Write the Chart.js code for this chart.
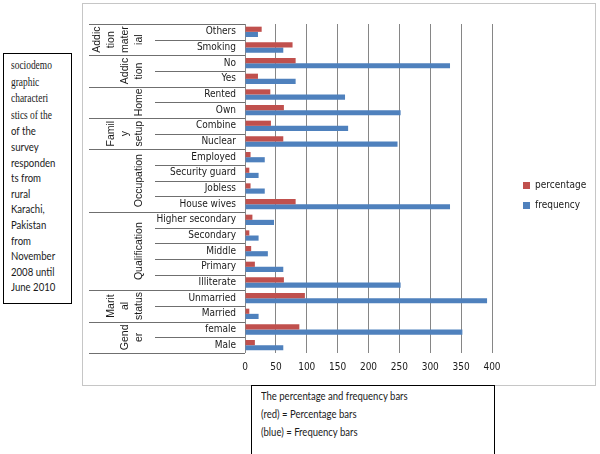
<!DOCTYPE html>
<html>
<head>
<meta charset="utf-8">
<title>sociodemographic characteristics</title>
<script src="https://cdn.jsdelivr.net/npm/chart.js@4.4.1/dist/chart.umd.min.js"></script>
<style>
  body { margin: 0; width: 600px; height: 454px; position: relative; overflow: hidden; background: #fff; font-family: Lato, sans-serif; color: #1a1a1a; }
  .squeeze { display: inline-block; transform: scaleX(0.82); transform-origin: left top; white-space: nowrap; }
  #note { position: absolute; left: 3px; top: 53px; width: 69px; height: 251px; border: 1px solid #000; box-sizing: border-box; padding: 3px 0 0 7px; font-size: 11.7px; line-height: 15.6px; }
  #note .serif { font-family: "Liberation Serif", serif; font-size: 11.5px; }
  #chartBox { position: absolute; left: 82px; top: 3px; width: 514px; height: 383px; border: 1px solid #c6c6c6; box-sizing: border-box; }
  #caption { position: absolute; left: 251px; top: 385px; width: 244px; height: 80px; border: 1px solid #000; box-sizing: border-box; padding: 1px 0 0 9px; font-size: 11.6px; line-height: 18px; }
</style>
</head>
<body>
<div id="note"><div class="squeeze">
  <span class="serif">sociodemo<br>graphic<br>characteri<br>stics of the</span><br>
  of the<br>survey<br>responden<br>ts from<br>rural<br>Karachi,<br>Pakistan<br>from<br>November<br>2008 until<br>June 2010
</div></div>
<div id="chartBox"><canvas id="demoChart" width="512" height="381"></canvas></div>
<div id="caption"><div class="squeeze">The percentage and frequency bars<br>(red) = Percentage bars<br>(blue) = Frequency bars</div></div>

<script>
// categories from top to bottom
const categories = ['Others', 'Smoking', 'No', 'Yes', 'Rented', 'Own', 'Combine', 'Nuclear',
  'Employed', 'Security guard', 'Jobless', 'House wives',
  'Higher secondary', 'Secondary', 'Middle', 'Primary', 'Illiterate',
  'Unmarried', 'Married', 'female', 'Male'];

// values
const percentage = [27, 77, 82, 21, 41, 63, 42, 62, 9, 7, 9, 82, 12, 7, 10, 16, 63, 97, 7, 88, 16];
const frequency = [21, 62, 332, 82, 162, 252, 167, 247, 32, 22, 32, 332, 47, 22, 37, 62, 252, 392, 22, 352, 62];

// group labels (as wrapped in the picture) and how many rows each covers
const groupNames = [['Addic', 'tion', 'mater', 'ial'], ['Addic', 'tion'], ['Home'], ['Famil', 'y', 'setup'],
  ['Occupation'], ['Qualification'], ['Marit', 'al', 'status'], ['Gend', 'er']];
const groupSizes = [2, 2, 2, 2, 4, 5, 2, 2];

const xTicks = [0, 50, 100, 150, 200, 250, 300, 350, 400];

const narrowFont = '"DejaVu Sans Condensed", "DejaVu Sans", sans-serif';
const groupFont = '10.5px "Liberation Sans", Arial, sans-serif';

// draws the group column and the row separator lines left of the axis
const groupPlugin = {
  id: 'groupLabels',
  afterDraw(chart) {
    const ctx = chart.ctx;
    const y = chart.scales.y;
    const left = chart.chartArea.left;
    const half = (y.getPixelForValue(1) - y.getPixelForValue(0)) / 2;
    const groupX = 6, subX = 72, lastLineX = 56, lineGap = 14;

    // which boundaries start a new group
    const groupStarts = [0];
    groupSizes.forEach(n => groupStarts.push(groupStarts[groupStarts.length - 1] + n));

    ctx.save();
    ctx.strokeStyle = '#6f6f6f';
    ctx.lineWidth = 1;
    for (let i = 0; i <= categories.length; i++) {
      const py = Math.round(y.getPixelForValue(i) - half) + 0.5;
      const x0 = groupStarts.includes(i) ? groupX : subX;
      ctx.beginPath();
      ctx.moveTo(x0, py);
      ctx.lineTo(left, py);
      ctx.stroke();
    }

    ctx.fillStyle = '#1a1a1a';
    ctx.font = groupFont;
    ctx.textAlign = 'center';
    ctx.textBaseline = 'middle';
    groupNames.forEach((lines, g) => {
      const from = groupStarts[g], to = groupStarts[g + 1] - 1;
      const cy = (y.getPixelForValue(from) + y.getPixelForValue(to)) / 2;
      ctx.save();
      ctx.translate(lastLineX, cy);
      ctx.rotate(-Math.PI / 2);
      lines.forEach((t, k) => ctx.fillText(t, 0, (k - (lines.length - 1)) * lineGap));
      ctx.restore();
    });
    ctx.restore();
  }
};

const ctx = document.getElementById('demoChart').getContext('2d');
new Chart(ctx, {
  type: 'bar',
  data: {
    labels: categories,
    datasets: [
      { label: 'percentage', data: percentage, backgroundColor: '#C0504D' },
      { label: 'frequency', data: frequency, backgroundColor: '#4F81BD' }
    ]
  },
  options: {
    indexAxis: 'y',
    responsive: false,
    animation: false,
    categoryPercentage: 0.66,
    barPercentage: 1,
    layout: { padding: { top: 20, right: 0, bottom: 4, left: 0 } },
    plugins: {
      tooltip: { enabled: false },
      legend: {
        position: 'right',
        fullSize: false,
        maxWidth: 82,
        // empty title only nudges the entries down a little
        title: { display: true, text: '', font: { size: 11.7 } },
        labels: { boxWidth: 7, boxHeight: 7, padding: 10, color: '#1a1a1a', font: { family: narrowFont, size: 10 } }
      }
    },
    scales: {
      x: {
        min: 0,
        max: 434,  // leaves the gap between the 400 line and the legend
        afterBuildTicks: scale => { scale.ticks = xTicks.map(v => ({ value: v })); },
        grid: { color: '#868686', drawTicks: false },
        border: { display: false },
        ticks: { padding: 8, color: '#1a1a1a', font: { family: narrowFont, size: 10 } }
      },
      y: {
        afterFit: scale => { scale.width = 162; },
        grid: { display: false, drawTicks: false },
        border: { display: false },
        ticks: { padding: 9, color: '#1a1a1a', autoSkip: false, font: { family: narrowFont, size: 10 } }
      }
    }
  },
  plugins: [groupPlugin]
});
</script>
</body>
</html>
